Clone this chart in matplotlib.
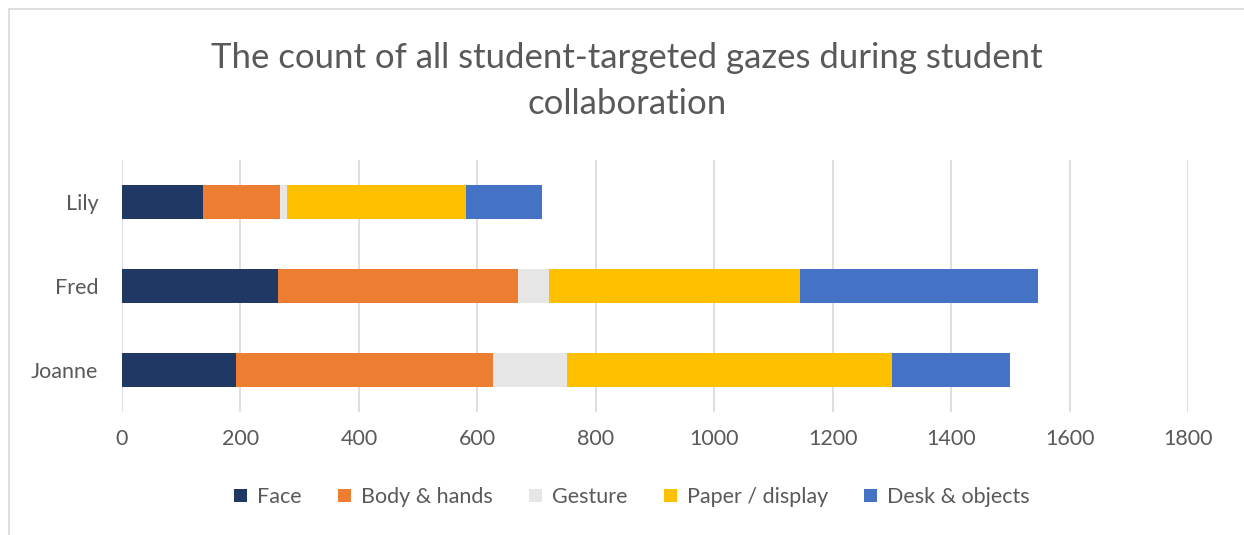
import numpy as np
import matplotlib.pyplot as plt
from matplotlib.patches import Rectangle

# data
students = ['Joanne', 'Fred', 'Lily']
categories = ['Face', 'Body & hands', 'Gesture', 'Paper / display', 'Desk & objects']
face = [193, 263, 136]
body_hands = [433, 406, 131]
gesture = [125, 52, 11]
paper_display = [549, 424, 303]
desk_objects = [199, 402, 129]
colors = ['#203864', '#ED7D31', '#E7E6E6', '#FFC000', '#4472C4']
xticks = np.arange(0, 1801, 200)

plt.rcParams['font.family'] = ['Lato', 'DejaVu Sans']
txt = '#595959'

fig = plt.figure(figsize=(12.44, 5.35), dpi=100)
ax = fig.add_axes([122 / 1244, 1 - 412 / 535, (1188 - 122) / 1244, 252 / 535])

series = [face, body_hands, gesture, paper_display, desk_objects]
y = np.arange(len(students))
left = np.zeros(len(students))
for name, vals, c in zip(categories, series, colors):
    ax.barh(y, vals, left=left, height=0.4, color=c, label=name, zorder=3)
    left += np.array(vals)

ax.set_xlim(0, 1800)
ax.set_ylim(-0.5, 2.5)
ax.set_xticks(xticks)
ax.set_yticks(y)
ax.set_yticklabels(students)
ax.grid(axis='x', color='#D9D9D9', linewidth=1.2, zorder=0)
for s in ax.spines.values():
    s.set_visible(False)
ax.tick_params(axis='x', length=0, pad=12, labelsize=15.5, labelcolor=txt)
ax.tick_params(axis='y', length=0, pad=17, labelsize=15.5, labelcolor=txt)

fig.text(0.504, 1 - 58 / 535, 'The count of all student-targeted gazes during student',
         ha='center', va='center', fontsize=25, color=txt)
fig.text(0.504, 1 - 104 / 535, 'collaboration',
         ha='center', va='center', fontsize=25, color=txt)

fig.legend(loc='center', bbox_to_anchor=(632 / 1244, 1 - 497 / 535), ncol=5,
           frameon=False, fontsize=15.5, labelcolor=txt, handlelength=0.6,
           handleheight=0.6, handletextpad=0.45, columnspacing=1.7)

fig.patches.append(Rectangle((9, -5), 1244, 535 - 4, transform=None, fill=False,
                             edgecolor='#D9D9D9', linewidth=1.2))

fig.savefig('out.png', dpi=100)
